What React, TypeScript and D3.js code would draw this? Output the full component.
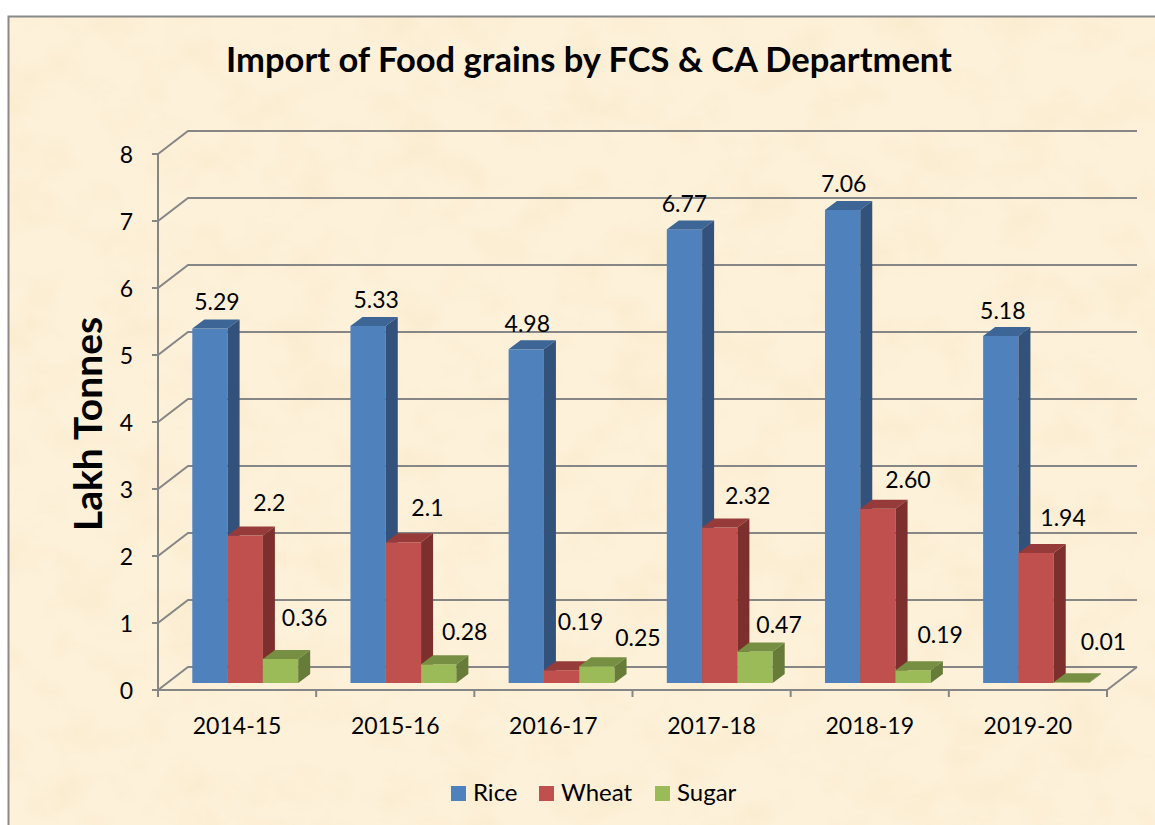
import React from 'react';
import * as d3 from 'd3';

const width = 1155;
const height = 825;

const years = ['2014-15', '2015-16', '2016-17', '2017-18', '2018-19', '2019-20'];
const seriesNames = ['Rice', 'Wheat', 'Sugar'];
const rice = [5.29, 5.33, 4.98, 6.77, 7.06, 5.18];
const wheat = [2.2, 2.1, 0.19, 2.32, 2.6, 1.94];
const sugar = [0.36, 0.28, 0.25, 0.47, 0.19, 0.01];
const riceLabels = ['5.29', '5.33', '4.98', '6.77', '7.06', '5.18'];
const wheatLabels = ['2.2', '2.1', '0.19', '2.32', '2.60', '1.94'];
const sugarLabels = ['0.36', '0.28', '0.25', '0.47', '0.19', '0.01'];
const yTicks = [0, 1, 2, 3, 4, 5, 6, 7, 8];

const seriesValues = [rice, wheat, sugar];
const seriesLabels = [riceLabels, wheatLabels, sugarLabels];

// face colours: front, top, side
const faces = [
  ['#4f81bd', '#3d6596', '#32527c'],
  ['#c0504d', '#963b39', '#7d2f2d'],
  ['#9bbb59', '#778f43', '#667c38'],
];

// hand placed data labels in the original, offset from bar centre / bar top
const labelDx = [
  [7, 8, 1, 0, 1, 2],
  [24, 24, 19, 28, 30, 27],
  [24, 26, 41, 24, 27, 32],
];
const labelDy = [
  [-27, -26, -26, -26, -26, -25],
  [-33, -35, -49, -32, -29, -36],
  [-41, -33, -29, -27, -36, -41],
];

const font = 'Lato, sans-serif';
const gridColor = '#868686';
const depthX = 30;
const depthY = 23;
const barDepthX = 12;
const barDepthY = 9;

const x = d3.scaleBand<string>().domain(years).range([158, 1107]);
const y = d3.scaleLinear().domain([0, 8]).range([690, 154]);
// bars stand on the floor, a little behind the front edge
const barY = d3.scaleLinear().domain([0, 8]).range([683, 147]);
const inner = d3.scaleBand<string>().domain(seriesNames).range([34.3, 140.2]);

const poly = (pts: [number, number][]) => d3.line()(pts) + 'Z';

export default function App() {
  const w = inner.bandwidth();
  return (
    <svg
      width={width}
      height={height}
      style={{ position: 'absolute', left: 0, top: 0, display: 'block', background: '#fff' }}
    >
      <defs>
        <filter id="parchment" x="0" y="0" width="100%" height="100%">
          <feTurbulence type="fractalNoise" baseFrequency="0.018 0.022" numOctaves="4" seed="7" />
          <feColorMatrix
            type="matrix"
            values="0 0 0 0 0.93  0 0 0 0 0.80  0 0 0 0 0.55  1.2 0 0 0 -0.52"
          />
        </filter>
      </defs>

      <rect x={8} y={16} width={width - 8} height={height - 16} fill="#fdf1da" />
      <rect x={8} y={16} width={width - 8} height={height - 16} filter="url(#parchment)" />
      <path d="M8.5,825V16.5H1155" fill="none" stroke="#8a8a8a" strokeWidth={2} />

      <text x={589} y={72} textAnchor="middle" fontFamily={font} fontWeight={700} fontSize={34.5} fill="#000">
        Import of Food grains by FCS &amp; CA Department
      </text>

      <text
        transform="translate(102,424) rotate(-90)"
        textAnchor="middle"
        fontFamily={font}
        fontWeight={700}
        fontSize={39}
        fill="#000"
      >
        Lakh Tonnes
      </text>

      {yTicks.map(t => (
        <g key={t}>
          <path
            d={`M${158 - 6},${y(t)}H158L${158 + depthX},${y(t) - depthY}H${1107 + depthX - 0}`}
            fill="none"
            stroke={gridColor}
            strokeWidth={2}
          />
          <text x={133} y={y(t) + 9} textAnchor="end" fontFamily={font} fontSize={23} fill="#000">
            {t}
          </text>
        </g>
      ))}

      <path d={`M158,${y(8)}V697`} fill="none" stroke={gridColor} strokeWidth={2} />
      <path
        d={`M158,${y(0)}H1107L${1107 + depthX},${y(0) - depthY}`}
        fill="none"
        stroke={gridColor}
        strokeWidth={2}
      />
      {years.map((yr, i) => (
        <path
          key={yr}
          d={`M${x(yr)! + x.bandwidth()},${y(0)}V697`}
          stroke={gridColor}
          strokeWidth={2}
          fill="none"
        />
      ))}

      {years.map((yr, i) => (
        <g key={yr}>
          {seriesNames.map((name, s) => {
            const x0 = x(yr)! + inner(name)!;
            const x1 = x0 + w;
            const top = barY(seriesValues[s][i]);
            const base = barY(0);
            return (
              <g key={name}>
                <rect x={x0} y={top} width={w} height={base - top} fill={faces[s][0]} />
                <path
                  d={poly([
                    [x0, top],
                    [x0 + barDepthX, top - barDepthY],
                    [x1 + barDepthX, top - barDepthY],
                    [x1, top],
                  ])}
                  fill={faces[s][1]}
                />
                <path
                  d={poly([
                    [x1, top],
                    [x1 + barDepthX, top - barDepthY],
                    [x1 + barDepthX, base - barDepthY],
                    [x1, base],
                  ])}
                  fill={faces[s][2]}
                />
              </g>
            );
          })}
        </g>
      ))}

      {years.map((yr, i) =>
        seriesNames.map((name, s) => (
          <text
            key={yr + name}
            x={x(yr)! + inner(name)! + w / 2 + labelDx[s][i]}
            y={barY(seriesValues[s][i]) + labelDy[s][i] + 8.5}
            textAnchor="middle"
            fontFamily={font}
            fontSize={23}
            fill="#000"
          >
            {seriesLabels[s][i]}
          </text>
        )),
      )}

      {years.map(yr => (
        <text
          key={yr}
          x={x(yr)! + x.bandwidth() / 2}
          y={734}
          textAnchor="middle"
          fontFamily={font}
          fontSize={23}
          fill="#000"
        >
          {yr}
        </text>
      ))}

      {seriesNames.map((name, s) => {
        const keyX = [451, 539, 655][s];
        return (
          <g key={name}>
            <rect x={keyX} y={786} width={15} height={15} fill={faces[s][0]} />
            <text x={keyX + 22} y={801} fontFamily={font} fontSize={24} fill="#000">
              {name}
            </text>
          </g>
        );
      })}
    </svg>
  );
}
